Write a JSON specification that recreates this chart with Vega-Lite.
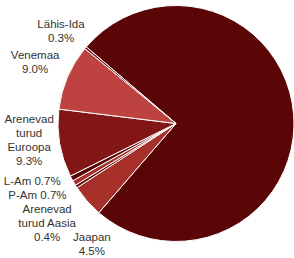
{
  "$schema": "https://vega.github.io/schema/vega-lite/v6.json",
  "width": 236,
  "height": 237,
  "autosize": {"type": "none"},
  "padding": {"left": 58, "top": 5, "right": 0, "bottom": 16},
  "background": "white",
  "view": {"stroke": null},
  "config": {"text": {"font": "Liberation Sans", "fontSize": 11.5, "fill": "#333333", "lineHeight": 14, "align": "center", "baseline": "middle", "lineBreak": "\n"}},
  "data": {"values": [
    {"k": 1, "name": "Muu", "v": 75.1, "label": ""},
    {"k": 2, "name": "Jaapan", "v": 4.5, "label": "Jaapan\n4.5%"},
    {"k": 3, "name": "Arenevad turud Aasia", "v": 0.4, "label": "Arenevad\nturud Aasia\n0.4%"},
    {"k": 4, "name": "P-Am", "v": 0.7, "label": "P-Am 0.7%"},
    {"k": 5, "name": "L-Am", "v": 0.7, "label": "L-Am 0.7%"},
    {"k": 6, "name": "Arenevad turud Euroopa", "v": 9.3, "label": "Arenevad\nturud\nEuroopa\n9.3%"},
    {"k": 7, "name": "Venemaa", "v": 9.0, "label": "Venemaa\n9.0%"},
    {"k": 8, "name": "Lähis-Ida", "v": 0.3, "label": "Lähis-Ida\n0.3%"}
  ]},
  "encoding": {
    "theta": {"field": "v", "type": "quantitative", "stack": true, "scale": {"range": [-0.864, 5.419]}},
    "order": {"field": "k", "type": "quantitative"}
  },
  "layer": [
    {
      "mark": {"type": "arc", "outerRadius": 118, "stroke": "white", "strokeWidth": 1},
      "encoding": {
        "color": {"field": "name", "type": "nominal", "legend": null,
          "scale": {
            "domain": ["Muu", "Jaapan", "Arenevad turud Aasia", "P-Am", "L-Am", "Arenevad turud Euroopa", "Venemaa", "Lähis-Ida"],
            "range": ["#5a0606", "#a8302a", "#5a0606", "#a8302a", "#5a0606", "#821515", "#be4340", "#5a0606"]
          }}
      }
    },
    {"mark": {"type": "text", "radius": 150, "dx": 0, "dy": -2}, "encoding": {"text": {"condition": {"test": "datum.k == 8", "field": "label"}, "value": ""}}},
    {"mark": {"type": "text", "radius": 150, "dx": -3, "dy": -8}, "encoding": {"text": {"condition": {"test": "datum.k == 7", "field": "label"}, "value": ""}}},
    {"mark": {"type": "text", "radius": 150, "dx": 1, "dy": -29}, "encoding": {"text": {"condition": {"test": "datum.k == 6", "field": "label"}, "value": ""}}},
    {"mark": {"type": "text", "radius": 150, "dx": -11, "dy": -11}, "encoding": {"text": {"condition": {"test": "datum.k == 5", "field": "label"}, "value": ""}}},
    {"mark": {"type": "text", "radius": 150, "dx": -9, "dy": -3}, "encoding": {"text": {"condition": {"test": "datum.k == 4", "field": "label"}, "value": ""}}},
    {"mark": {"type": "text", "radius": 150, "dx": -2, "dy": 6}, "encoding": {"text": {"condition": {"test": "datum.k == 3", "field": "label"}, "value": ""}}},
    {"mark": {"type": "text", "radius": 150, "dx": 29, "dy": 16}, "encoding": {"text": {"condition": {"test": "datum.k == 2", "field": "label"}, "value": ""}}}
  ]
}
